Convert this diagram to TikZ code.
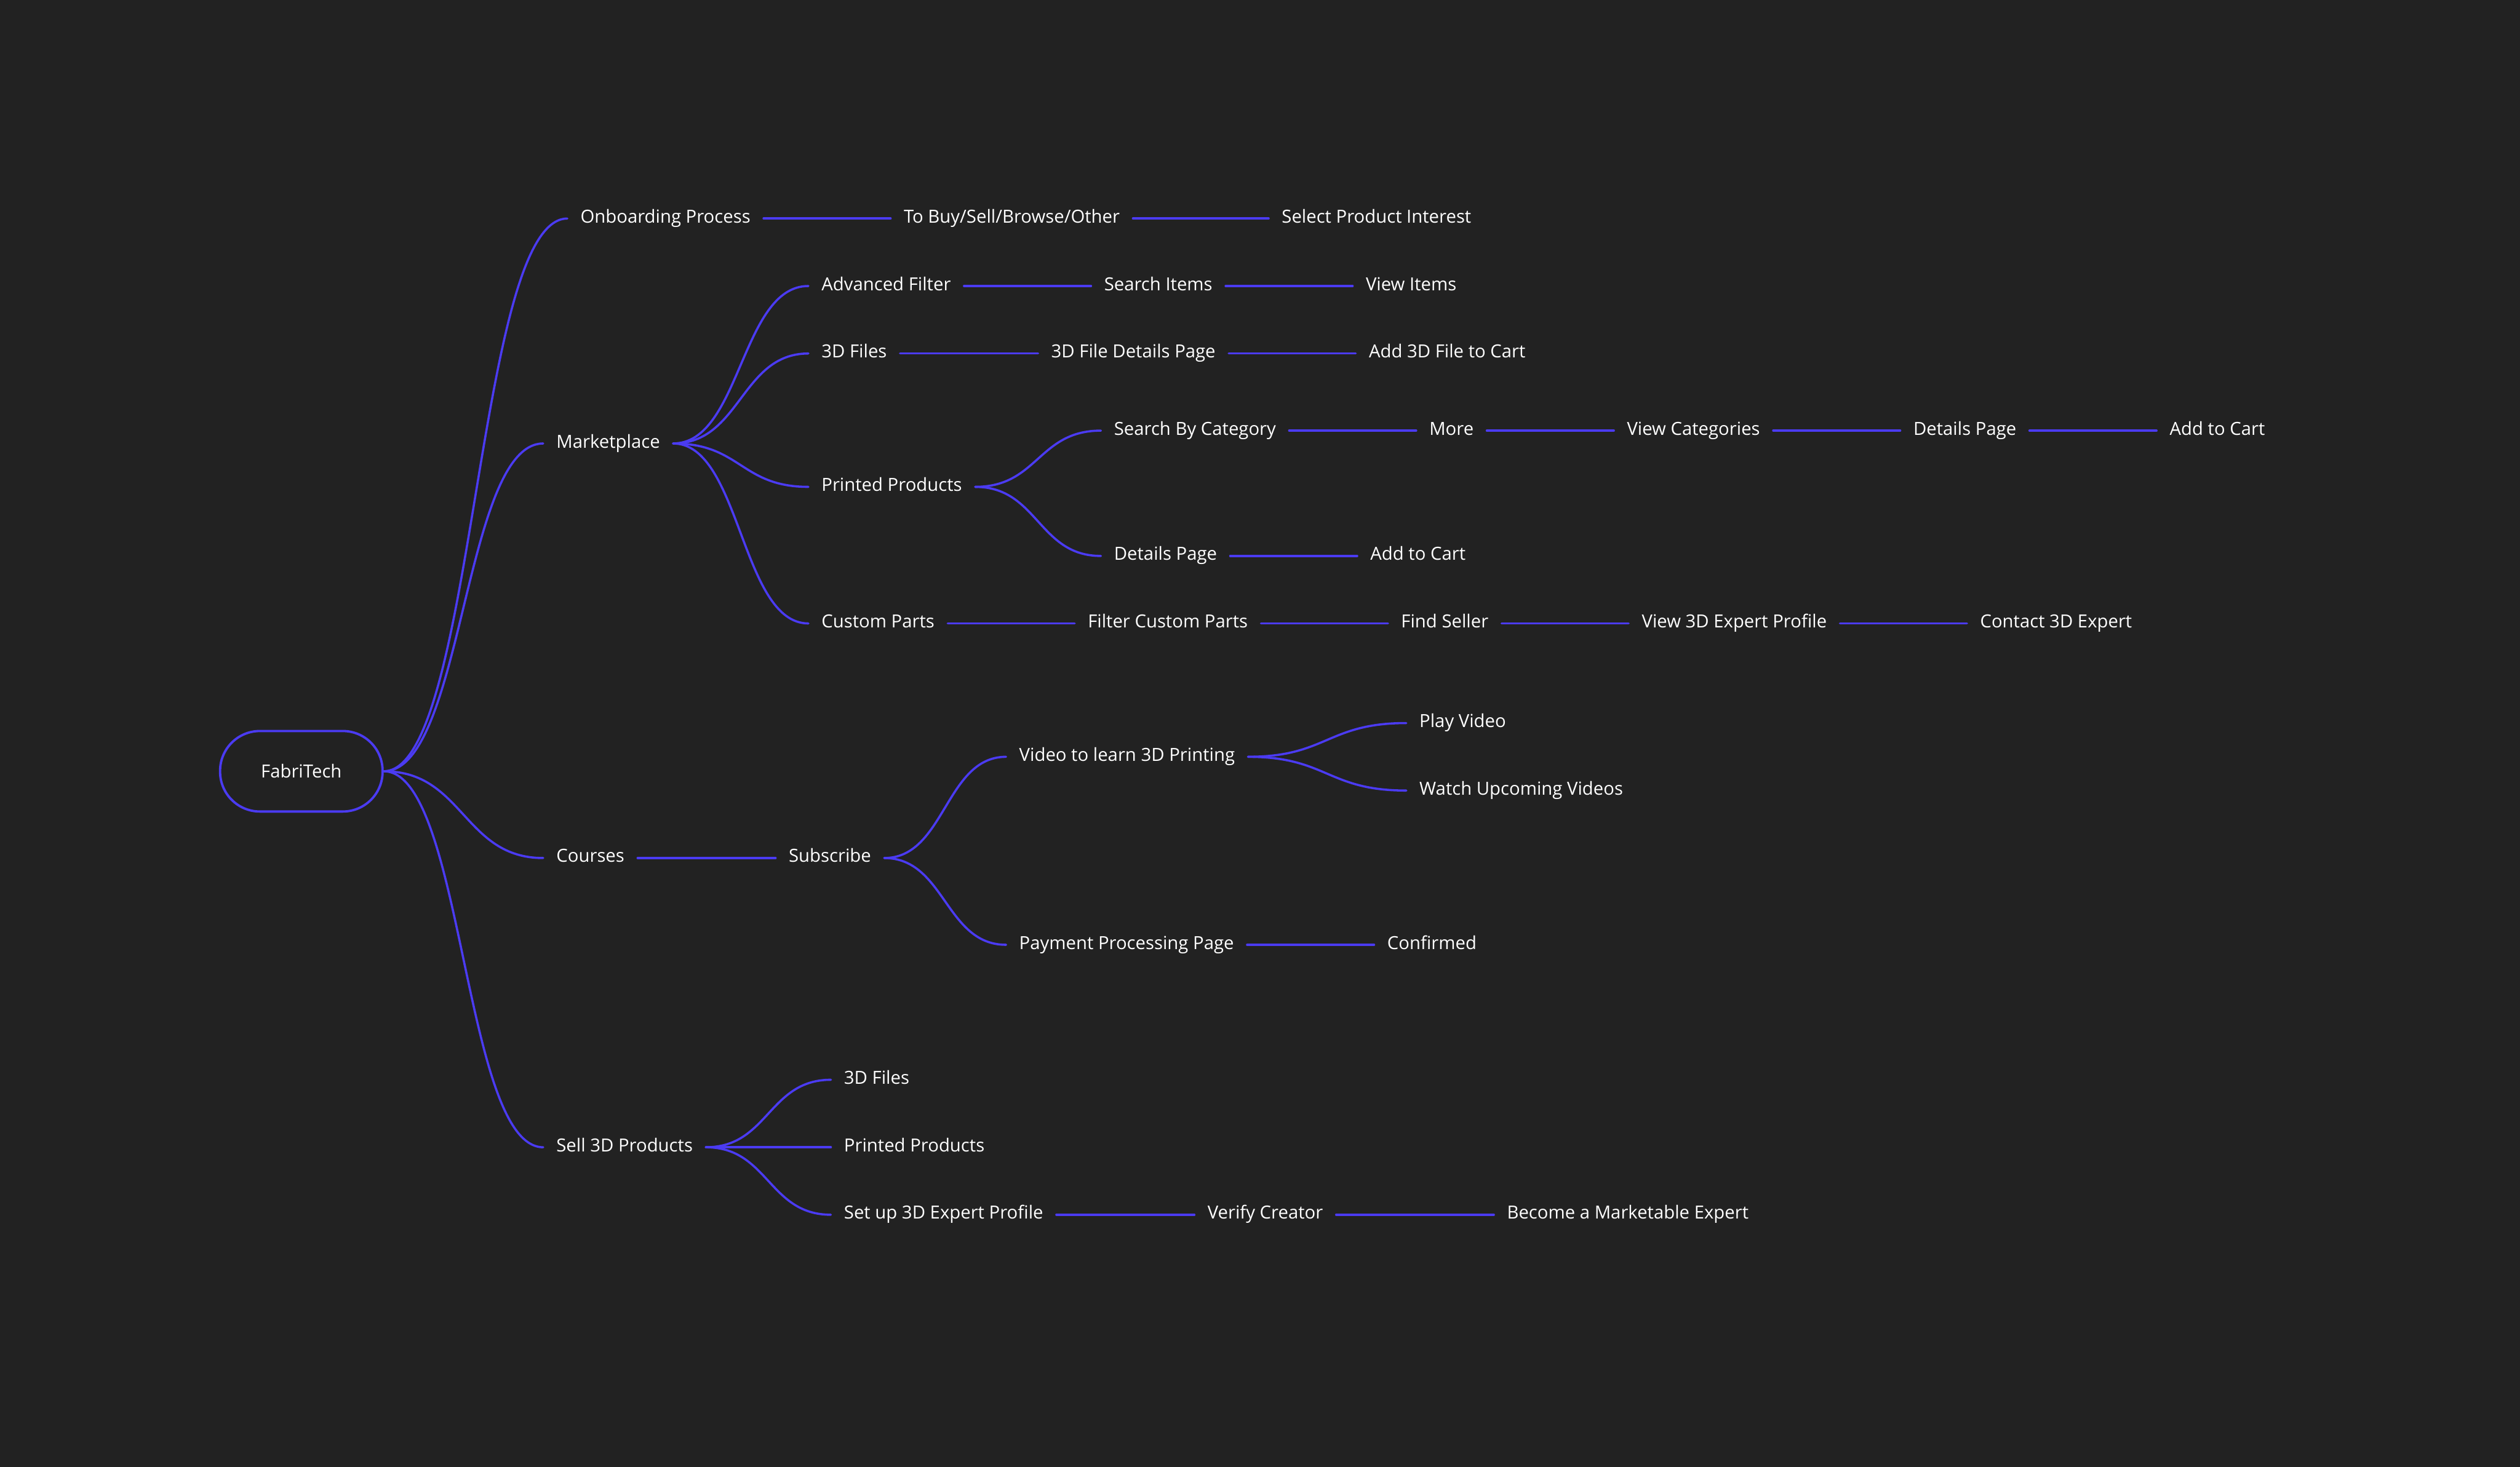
\documentclass[tikz,border=0pt]{standalone}
\usepackage{fontspec}
\setmainfont{Open Sans}
\usepackage{tikz}
\usetikzlibrary{positioning, calc}

\definecolor{bgdark}{HTML}{222222}
\definecolor{mapline}{HTML}{4B3BF2}

\begin{document}
\begin{tikzpicture}[x=0.3353mm, y=-0.3353mm, node distance=26.5mm,
    item/.style={anchor=west, text=white, inner xsep=2.68mm, inner ysep=0.5mm, text height=2.6mm, text depth=0.8mm, font=\fontsize{10.7}{12}\selectfont},
    hub/.style={draw=mapline, line width=1.4pt, rounded corners=8.3mm, minimum width=33.9mm, minimum height=16.8mm, text=white, font=\fontsize{10.7}{12}\selectfont},
    link/.style={draw=mapline, line width=1.3pt, line cap=round},
    branch/.style={link, to path={(\tikztostart) .. controls ($(\tikztostart)!0.5!(\tikztotarget |- \tikztostart)$) and ($(\tikztotarget)!0.5!(\tikztostart |- \tikztotarget)$) .. (\tikztotarget)}}]

    % background and page size
    \fill [bgdark] (0,0) rectangle (1568,913);

    \node [hub] (fabri) at (187.5,480) {FabriTech};

    % first level
    \node [item] (onboard) at (353,136) {Onboarding Process};
    \node [item] (market) at (338,276) {Marketplace};
    \node [item] (courses) at (338,534) {Courses};
    \node [item] (sell) at (338,714) {Sell 3D Products};

    % onboarding
    \node [item, right=of onboard] (intent) {To Buy/Sell/Browse/Other};
    \node [item, right=28.3mm of intent] (interest) {Select Product Interest};

    % marketplace
    \node [item] (advfilter) at (503,178) {Advanced Filter};
    \node [item, right=of advfilter] (searchitems) {Search Items};
    \node [item, right=of searchitems] (viewitems) {View Items};
    \node [item] (files) at (503,220) {3D Files};
    \node [item, right=28.8mm of files] (filedetails) {3D File Details Page};
    \node [item, right=of filedetails] (addfile) {Add 3D File to Cart};
    \node [item] (printed) at (503,303) {Printed Products};
    \node [item] (bycat) at (685,268) {Search By Category};
    \node [item, right=of bycat] (more) {More};
    \node [item, right=of more] (viewcats) {View Categories};
    \node [item, right=of viewcats] (catdetails) {Details Page};
    \node [item, right=of catdetails] (catcart) {Add to Cart};
    \node [item] (pdetails) at (685,346) {Details Page};
    \node [item, right=of pdetails] (pcart) {Add to Cart};
    \node [item] (custom) at (503,388) {Custom Parts};
    \node [item, right=of custom] (filtercustom) {Filter Custom Parts};
    \node [item, right=of filtercustom] (seller) {Find Seller};
    \node [item, right=of seller] (viewexpert) {View 3D Expert Profile};
    \node [item, right=of viewexpert] (contact) {Contact 3D Expert};

    % courses
    \node [item, right=28.8mm of courses] (subscribe) {Subscribe};
    \node [item] (video) at (626,471) {Video to learn 3D Printing};
    \node [item] (play) at (875,450) {Play Video};
    \node [item] (upcoming) at (875,492) {Watch Upcoming Videos};
    \node [item] (payment) at (626,588) {Payment Processing Page};
    \node [item, right=of payment] (confirmed) {Confirmed};

    % selling
    \node [item] (sfiles) at (517,672) {3D Files};
    \node [item] (sprinted) at (517,714) {Printed Products};
    \node [item] (setup) at (517,756) {Set up 3D Expert Profile};
    \node [item, right=28.8mm of setup] (verify) {Verify Creator};
    \node [item, right=32.9mm of verify] (become) {Become a Marketable Expert};

    % curved branches
    \draw [branch] (fabri.east) to (onboard.west);
    \draw [branch] (fabri.east) to (market.west);
    \draw [branch] (fabri.east) to (courses.west);
    \draw [branch] (fabri.east) to (sell.west);
    \draw [branch] (market.east) to (advfilter.west);
    \draw [branch] (market.east) to (files.west);
    \draw [branch] (market.east) to (printed.west);
    \draw [branch] (market.east) to (custom.west);
    \draw [branch] (printed.east) to (bycat.west);
    \draw [branch] (printed.east) to (pdetails.west);
    \draw [branch] (subscribe.east) to (video.west);
    \draw [branch] (subscribe.east) to (payment.west);
    \draw [branch] (video.east) to (play.west);
    \draw [branch] (video.east) to (upcoming.west);
    \draw [branch] (sell.east) to (sfiles.west);
    \draw [branch] (sell.east) to (sprinted.west);
    \draw [branch] (sell.east) to (setup.west);

    % straight links
    \draw [link] (onboard.east) -- (intent.west);
    \draw [link] (intent.east) -- (interest.west);
    \draw [link] (advfilter.east) -- (searchitems.west);
    \draw [link] (searchitems.east) -- (viewitems.west);
    \draw [link] (files.east) -- (filedetails.west);
    \draw [link] (filedetails.east) -- (addfile.west);
    \draw [link] (bycat.east) -- (more.west);
    \draw [link] (more.east) -- (viewcats.west);
    \draw [link] (viewcats.east) -- (catdetails.west);
    \draw [link] (catdetails.east) -- (catcart.west);
    \draw [link] (pdetails.east) -- (pcart.west);
    \draw [link] (custom.east) -- (filtercustom.west);
    \draw [link] (filtercustom.east) -- (seller.west);
    \draw [link] (seller.east) -- (viewexpert.west);
    \draw [link] (viewexpert.east) -- (contact.west);
    \draw [link] (courses.east) -- (subscribe.west);
    \draw [link] (payment.east) -- (confirmed.west);
    \draw [link] (setup.east) -- (verify.west);
    \draw [link] (verify.east) -- (become.west);
\end{tikzpicture}
\end{document}
